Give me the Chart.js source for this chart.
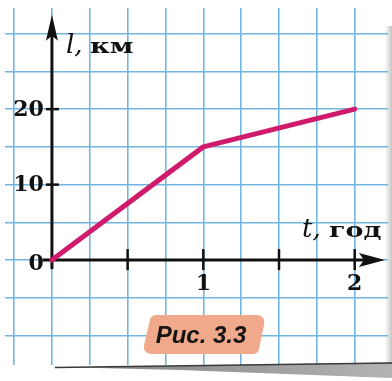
<!DOCTYPE html>
<html>
<head>
<meta charset="utf-8">
<script src="https://cdn.jsdelivr.net/npm/chart.js@4.4.1/dist/chart.umd.min.js"></script>
<style>
  html, body { margin: 0; padding: 0; background: #fff; }
  canvas { display: block; }
</style>
</head>
<body>
<canvas id="motion-chart" width="392" height="381"></canvas>
<script>
// t, год  ->  l, км
const timeHours = [0, 1, 2];
const distanceKm = [0, 15, 20];

// labelled ticks and small tick marks on the axes
const xTickLabels = [1, 2];
const xTickMarks = [0.5, 1, 1.5, 2];
const yTickLabels = [0, 10, 20];
const yTickMarks = [10, 20];

const gridColor = "#72b6e0";
const lineColor = "#d01a6c";
const serif = "'DejaVu Serif', 'Liberation Serif', serif";

// draws text stretched sideways (the Cyrillic unit labels are wide)
function wideText(ctx, text, x, y, sx) {
    ctx.save();
    ctx.translate(x, y);
    ctx.scale(sx, 1);
    ctx.fillText(text, 0, 0);
    ctx.restore();
}

// black axes with arrows, drawn under the line
const axesPlugin = {
    id: "axes",
    beforeDatasetsDraw(chart) {
        const ctx = chart.ctx;
        const x = chart.scales.x;
        const y = chart.scales.y;
        const x0 = x.getPixelForValue(0);
        const y0 = y.getPixelForValue(0);
        const xEnd = x.getPixelForValue(2.2);
        const yEnd = y.getPixelForValue(32.5);

        ctx.save();
        ctx.strokeStyle = "#111";
        ctx.fillStyle = "#111";
        ctx.lineWidth = 3;

        // y axis
        ctx.beginPath();
        ctx.moveTo(x0, y0 + 9);
        ctx.lineTo(x0, yEnd + 12);
        ctx.stroke();
        ctx.beginPath();
        ctx.moveTo(x0, yEnd);
        ctx.lineTo(x0 + 6, yEnd + 26);
        ctx.lineTo(x0, yEnd + 21);
        ctx.lineTo(x0 - 6, yEnd + 26);
        ctx.closePath();
        ctx.fill();

        // x axis
        ctx.beginPath();
        ctx.moveTo(x0 - 9, y0);
        ctx.lineTo(xEnd - 12, y0);
        ctx.stroke();
        ctx.beginPath();
        ctx.moveTo(xEnd, y0);
        ctx.lineTo(xEnd - 26, y0 - 7);
        ctx.lineTo(xEnd - 21, y0);
        ctx.lineTo(xEnd - 26, y0 + 7);
        ctx.closePath();
        ctx.fill();

        // tick marks
        ctx.lineWidth = 2.5;
        xTickMarks.forEach(v => {
            const px = x.getPixelForValue(v);
            ctx.beginPath();
            ctx.moveTo(px, y0 - 11);
            ctx.lineTo(px, y0 + 10);
            ctx.stroke();
        });
        yTickMarks.forEach(v => {
            const py = y.getPixelForValue(v);
            ctx.beginPath();
            ctx.moveTo(x0 - 6, py);
            ctx.lineTo(x0 + 7, py);
            ctx.stroke();
        });
        ctx.restore();
    },
    afterDraw(chart) {
        const ctx = chart.ctx;
        const x = chart.scales.x;
        const y = chart.scales.y;
        const x0 = x.getPixelForValue(0);
        const y0 = y.getPixelForValue(0);

        ctx.save();
        ctx.fillStyle = "#111";

        // tick numbers
        ctx.font = "bold 22px " + serif;
        ctx.textAlign = "right";
        ctx.textBaseline = "middle";
        yTickLabels.forEach(v => {
            const py = y.getPixelForValue(v) + (v === 0 ? 4 : 1);
            ctx.fillText(String(v), x0 - 8, py);
        });
        ctx.textAlign = "center";
        ctx.textBaseline = "top";
        xTickLabels.forEach(v => {
            ctx.fillText(String(v), x.getPixelForValue(v), y0 + 13);
        });

        // axis names
        ctx.textAlign = "left";
        ctx.textBaseline = "alphabetic";
        ctx.font = "italic 26px " + serif;
        ctx.fillText("l,", 66, 53);
        ctx.font = "bold 21px " + serif;
        wideText(ctx, "км", 90, 53, 1.3);

        ctx.font = "italic 26px " + serif;
        ctx.fillText("t,", 302, 237);
        ctx.font = "bold 21px " + serif;
        wideText(ctx, "год", 329, 237, 1.28);

        // caption plate
        ctx.fillStyle = "#f0a98a";
        const pts = [[151, 315], [266, 315], [258, 354], [142, 354]];
        ctx.beginPath();
        ctx.moveTo((pts[0][0] + pts[1][0]) / 2, pts[0][1]);
        for (let i = 1; i <= 4; i++) {
            const p = pts[i % 4];
            const q = pts[(i + 1) % 4];
            ctx.arcTo(p[0], p[1], q[0], q[1], 7);
        }
        ctx.closePath();
        ctx.fill();
        ctx.fillStyle = "#151515";
        ctx.font = "italic bold 24px 'Liberation Sans', Arial, sans-serif";
        ctx.textAlign = "center";
        ctx.textBaseline = "middle";
        ctx.fillText("Рис. 3.3", 201, 336);

        // page edge shading at the right and bottom
        let g = ctx.createLinearGradient(385, 0, 392, 0);
        g.addColorStop(0, "rgba(150,150,150,0)");
        g.addColorStop(1, "rgba(150,150,150,0.55)");
        ctx.fillStyle = g;
        ctx.fillRect(385, 26, 7, 338);

        g = ctx.createLinearGradient(150, 0, 392, 0);
        g.addColorStop(0, "rgba(120,120,120,0.85)");
        g.addColorStop(1, "rgba(160,160,160,0.8)");
        ctx.fillStyle = g;
        ctx.beginPath();
        ctx.moveTo(78, 367.5);
        ctx.lineTo(392, 362.5);
        ctx.lineTo(392, 378);
        ctx.lineTo(180, 370);
        ctx.closePath();
        ctx.fill();
        ctx.strokeStyle = "#3a3a3a";
        ctx.lineWidth = 1.3;
        ctx.beginPath();
        ctx.moveTo(55, 367.5);
        ctx.lineTo(392, 363);
        ctx.stroke();
        ctx.restore();
    }
};

const chartEl = document.getElementById("motion-chart");

const motionChart = new Chart(chartEl, {
    type: "line",
    data: {
        datasets: [
            {
                data: timeHours.map((t, i) => ({ x: t, y: distanceKm[i] })),
                borderColor: lineColor,
                borderWidth: 5,
                borderCapStyle: "round",
                borderJoinStyle: "round",
                pointRadius: 0,
                tension: 0,
                clip: false
            }
        ]
    },
    options: {
        responsive: false,
        animation: false,
        events: [],
        layout: { padding: { left: 5, top: 8, right: 4, bottom: 16 } },
        plugins: { legend: { display: false }, tooltip: { enabled: false } },
        scales: {
            x: {
                type: "linear",
                min: -0.31,
                max: 2.22,
                ticks: { display: false, stepSize: 0.25, includeBounds: false },
                grid: { color: gridColor, lineWidth: 1.6, drawTicks: false },
                border: { display: false }
            },
            y: {
                type: "linear",
                min: -13.9,
                max: 33.4,
                ticks: { display: false, stepSize: 5, includeBounds: false },
                grid: { color: gridColor, lineWidth: 1.6, drawTicks: false },
                border: { display: false }
            }
        }
    },
    plugins: [axesPlugin]
});
</script>
</body>
</html>
